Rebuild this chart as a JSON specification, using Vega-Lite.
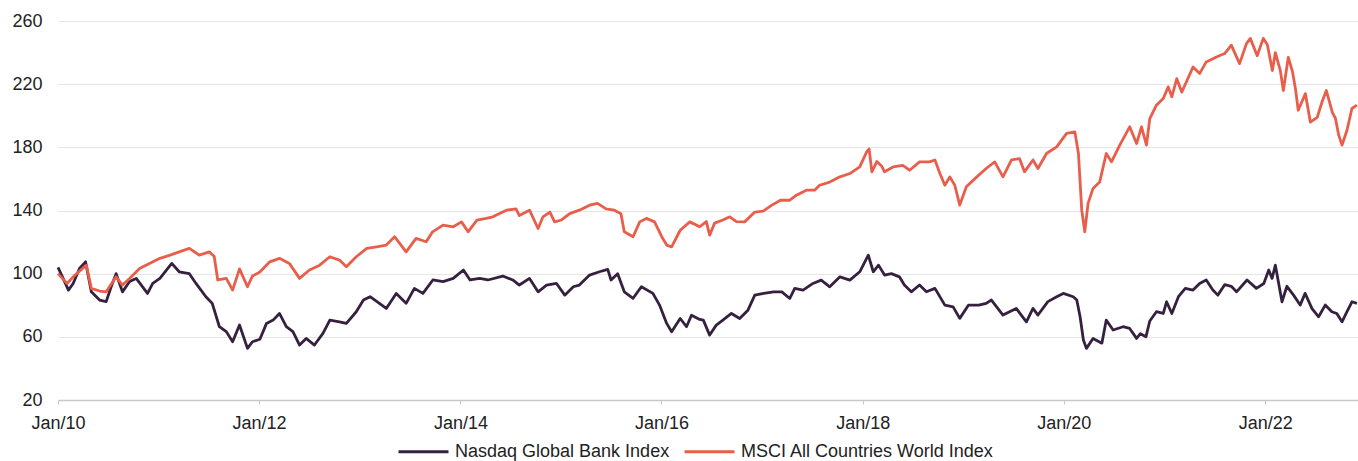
{
  "$schema": "https://vega.github.io/schema/vega-lite/v6.json",
  "width": 1300,
  "height": 379,
  "autosize": {"type": "none"},
  "padding": {"left": 58, "top": 21, "right": 0, "bottom": 61},
  "background": "white",
  "config": {
    "view": {"stroke": null},
    "font": "Liberation Sans",
    "axis": {"labelFont": "Liberation Sans", "labelFontSize": 18, "labelColor": "#222222", "titleFont": "Liberation Sans"},
    "legend": {"labelFont": "Liberation Sans"}
  },
  "datasets": {
    "bank": [
      {"date":"2010-01-01","value":104},{"date":"2010-01-17","value":98},{"date":"2010-02-08","value":89.6},{"date":"2010-02-25","value":93.8},
      {"date":"2010-03-20","value":103.3},{"date":"2010-04-11","value":107.5},{"date":"2010-05-02","value":88.5},{"date":"2010-06-01","value":83.3},
      {"date":"2010-06-25","value":82.3},{"date":"2010-07-13","value":91.7},{"date":"2010-07-31","value":100},{"date":"2010-08-23","value":88.5},
      {"date":"2010-09-18","value":95},{"date":"2010-10-12","value":97},{"date":"2010-11-22","value":87.5},{"date":"2010-12-11","value":93.8},
      {"date":"2011-01-06","value":97},{"date":"2011-02-18","value":106.5},{"date":"2011-03-17","value":101.2},{"date":"2011-04-23","value":100},
      {"date":"2011-05-17","value":93.8},{"date":"2011-06-22","value":85.4},{"date":"2011-07-15","value":81.2},{"date":"2011-08-10","value":66.4},
      {"date":"2011-09-04","value":63.3},{"date":"2011-09-27","value":56.9},{"date":"2011-10-22","value":67.5},{"date":"2011-11-20","value":52.7},
      {"date":"2011-12-08","value":56.9},{"date":"2012-01-04","value":58.5},{"date":"2012-01-28","value":68.5},{"date":"2012-02-21","value":70.6},
      {"date":"2012-03-15","value":74.8},{"date":"2012-04-09","value":66.4},{"date":"2012-05-03","value":63.3},{"date":"2012-05-27","value":54.8},
      {"date":"2012-06-20","value":59},{"date":"2012-07-20","value":54.8},{"date":"2012-08-20","value":62.2},{"date":"2012-09-14","value":70.6},
      {"date":"2012-10-19","value":69.5},{"date":"2012-11-13","value":68.5},{"date":"2012-12-19","value":75.9},{"date":"2013-01-14","value":83.3},
      {"date":"2013-02-07","value":85.4},{"date":"2013-03-13","value":81.2},{"date":"2013-04-07","value":78},{"date":"2013-05-13","value":87.5},
      {"date":"2013-06-18","value":81.2},{"date":"2013-07-18","value":90.7},{"date":"2013-08-18","value":87.5},{"date":"2013-09-23","value":96},
      {"date":"2013-10-30","value":95},{"date":"2013-12-06","value":97},{"date":"2014-01-12","value":102.3},{"date":"2014-02-05","value":96},
      {"date":"2014-03-12","value":97},{"date":"2014-04-11","value":96},{"date":"2014-06-04","value":98.5},{"date":"2014-07-10","value":96},
      {"date":"2014-08-03","value":92.8},{"date":"2014-09-09","value":97},{"date":"2014-10-10","value":88.5},{"date":"2014-11-10","value":92.8},
      {"date":"2014-12-16","value":93.8},{"date":"2015-01-15","value":86.4},{"date":"2015-02-15","value":91.7},{"date":"2015-03-09","value":92.8},
      {"date":"2015-04-15","value":99.1},{"date":"2015-05-21","value":101.2},{"date":"2015-06-20","value":102.7},{"date":"2015-07-02","value":96},
      {"date":"2015-07-26","value":100},{"date":"2015-08-19","value":88.5},{"date":"2015-09-20","value":84.4},{"date":"2015-10-20","value":91.7},
      {"date":"2015-12-01","value":87.5},{"date":"2015-12-25","value":80.1},{"date":"2016-01-20","value":68.5},{"date":"2016-02-07","value":63.2},
      {"date":"2016-03-09","value":71.6},{"date":"2016-04-01","value":66.4},{"date":"2016-04-19","value":73.7},{"date":"2016-05-19","value":71},
      {"date":"2016-06-01","value":70.6},{"date":"2016-06-24","value":61.1},{"date":"2016-07-18","value":67.4},{"date":"2016-08-11","value":70.6},
      {"date":"2016-09-11","value":74.8},{"date":"2016-10-11","value":71.6},{"date":"2016-11-10","value":76.9},{"date":"2016-12-05","value":86.4},
      {"date":"2017-01-06","value":87.5},{"date":"2017-02-11","value":88.5},{"date":"2017-03-13","value":88.5},{"date":"2017-04-11","value":84.3},
      {"date":"2017-04-29","value":90.7},{"date":"2017-05-29","value":89.6},{"date":"2017-07-04","value":93.8},{"date":"2017-08-03","value":95.9},
      {"date":"2017-09-03","value":91.7},{"date":"2017-10-10","value":98},{"date":"2017-11-15","value":95.9},{"date":"2017-12-21","value":101.2},
      {"date":"2018-01-21","value":111.7},{"date":"2018-02-08","value":101.2},{"date":"2018-02-27","value":105.4},{"date":"2018-03-21","value":99.1},
      {"date":"2018-04-15","value":100},{"date":"2018-05-14","value":98},{"date":"2018-06-01","value":92.8},{"date":"2018-06-26","value":88.5},
      {"date":"2018-07-26","value":92.8},{"date":"2018-08-20","value":88.5},{"date":"2018-09-20","value":90.7},{"date":"2018-10-26","value":80.1},
      {"date":"2018-11-25","value":79},{"date":"2018-12-19","value":71.7},{"date":"2019-01-20","value":80.1},{"date":"2019-02-26","value":80.1},
      {"date":"2019-03-25","value":81.2},{"date":"2019-04-13","value":83.3},{"date":"2019-05-25","value":73.8},{"date":"2019-07-12","value":78},
      {"date":"2019-08-18","value":69.5},{"date":"2019-09-11","value":78},{"date":"2019-09-29","value":73.8},{"date":"2019-11-04","value":82.3},
      {"date":"2019-12-06","value":85.4},{"date":"2019-12-30","value":87.5},{"date":"2020-02-04","value":85.4},{"date":"2020-02-17","value":83.3},
      {"date":"2020-02-29","value":72.7},{"date":"2020-03-12","value":58},{"date":"2020-03-23","value":52.7},{"date":"2020-04-16","value":59},
      {"date":"2020-05-18","value":56},{"date":"2020-06-03","value":70.6},{"date":"2020-06-28","value":64.3},{"date":"2020-08-03","value":66.4},
      {"date":"2020-08-27","value":65.3},{"date":"2020-09-21","value":59},{"date":"2020-10-05","value":62},{"date":"2020-10-25","value":60},
      {"date":"2020-11-08","value":70},{"date":"2020-12-02","value":75.9},{"date":"2020-12-27","value":74.8},{"date":"2021-01-08","value":82.2},
      {"date":"2021-01-27","value":74.8},{"date":"2021-02-20","value":85.4},{"date":"2021-03-17","value":90.7},{"date":"2021-04-14","value":89.6},
      {"date":"2021-05-08","value":93.8},{"date":"2021-06-01","value":96},{"date":"2021-06-25","value":89.6},{"date":"2021-07-13","value":86.4},
      {"date":"2021-08-07","value":93},{"date":"2021-08-31","value":92},{"date":"2021-09-19","value":88.5},{"date":"2021-10-27","value":96},
      {"date":"2021-11-30","value":90.7},{"date":"2021-12-27","value":93.8},{"date":"2022-01-14","value":102.3},{"date":"2022-01-26","value":97},
      {"date":"2022-02-07","value":105.4},{"date":"2022-02-19","value":93.8},{"date":"2022-03-03","value":82.2},{"date":"2022-03-21","value":92},
      {"date":"2022-04-14","value":86.4},{"date":"2022-05-08","value":80.1},{"date":"2022-05-26","value":87.5},{"date":"2022-06-20","value":77.9},
      {"date":"2022-07-14","value":72.7},{"date":"2022-08-07","value":80.1},{"date":"2022-08-31","value":75.9},{"date":"2022-09-18","value":74.8},
      {"date":"2022-10-07","value":69.5},{"date":"2022-10-25","value":75.9},{"date":"2022-11-12","value":82.2},{"date":"2022-11-30","value":81.2}
    ],
    "msci": [
      {"date":"2010-01-01","value":100},{"date":"2010-02-03","value":93.8},{"date":"2010-02-25","value":98},{"date":"2010-04-14","value":105.4},
      {"date":"2010-05-02","value":90.7},{"date":"2010-06-01","value":89},{"date":"2010-06-25","value":88.5},{"date":"2010-07-31","value":98},
      {"date":"2010-08-23","value":92.8},{"date":"2010-09-18","value":97},{"date":"2010-10-24","value":103.3},{"date":"2010-11-29","value":106.5},
      {"date":"2011-01-06","value":109.7},{"date":"2011-02-12","value":111.7},{"date":"2011-03-17","value":113.8},{"date":"2011-04-23","value":116},
      {"date":"2011-05-29","value":111.7},{"date":"2011-07-04","value":113.8},{"date":"2011-07-22","value":111},{"date":"2011-08-04","value":96},
      {"date":"2011-09-04","value":97},{"date":"2011-09-27","value":89.6},{"date":"2011-10-22","value":103},{"date":"2011-11-20","value":91.7},
      {"date":"2011-12-08","value":98.5},{"date":"2012-01-04","value":101},{"date":"2012-02-09","value":107.5},{"date":"2012-03-15","value":109.7},
      {"date":"2012-04-20","value":106.5},{"date":"2012-05-27","value":97},{"date":"2012-07-02","value":102.3},{"date":"2012-08-08","value":105.4},
      {"date":"2012-09-14","value":110.7},{"date":"2012-10-19","value":108.6},{"date":"2012-11-13","value":104.4},{"date":"2012-12-19","value":110.7},
      {"date":"2013-01-26","value":116},{"date":"2013-03-03","value":117},{"date":"2013-04-07","value":118.1},{"date":"2013-05-07","value":123.4},
      {"date":"2013-06-18","value":113.8},{"date":"2013-07-24","value":122.3},{"date":"2013-08-30","value":120.2},{"date":"2013-09-22","value":126.5},
      {"date":"2013-10-30","value":130.7},{"date":"2013-12-06","value":129.7},{"date":"2014-01-05","value":132.8},{"date":"2014-01-29","value":126.5},
      {"date":"2014-03-02","value":133.9},{"date":"2014-04-05","value":135},{"date":"2014-04-29","value":136},{"date":"2014-06-17","value":140.2},
      {"date":"2014-07-22","value":141},{"date":"2014-08-03","value":136.8},{"date":"2014-09-09","value":140.2},{"date":"2014-10-10","value":128.6},
      {"date":"2014-10-28","value":136},{"date":"2014-11-22","value":139},{"date":"2014-12-09","value":132.8},{"date":"2015-01-03","value":134},
      {"date":"2015-02-02","value":138},{"date":"2015-03-09","value":140.2},{"date":"2015-04-15","value":143.4},{"date":"2015-05-14","value":144.5},
      {"date":"2015-06-14","value":141},{"date":"2015-07-14","value":140.2},{"date":"2015-08-07","value":138},{"date":"2015-08-19","value":126.5},
      {"date":"2015-09-20","value":123.4},{"date":"2015-10-14","value":132.8},{"date":"2015-11-07","value":135},{"date":"2015-12-07","value":132.8},
      {"date":"2016-01-02","value":123.4},{"date":"2016-01-20","value":118.1},{"date":"2016-02-07","value":117},{"date":"2016-03-09","value":127.5},
      {"date":"2016-04-13","value":132.8},{"date":"2016-05-19","value":129.7},{"date":"2016-06-12","value":133},{"date":"2016-06-24","value":124.4},
      {"date":"2016-07-12","value":132},{"date":"2016-08-11","value":134},{"date":"2016-09-05","value":136},{"date":"2016-09-29","value":133},
      {"date":"2016-10-29","value":132.8},{"date":"2016-12-05","value":139},{"date":"2017-01-04","value":139.6},{"date":"2017-02-05","value":143.4},
      {"date":"2017-03-08","value":146.5},{"date":"2017-04-11","value":146.5},{"date":"2017-05-05","value":149.7},{"date":"2017-06-10","value":152.9},
      {"date":"2017-07-10","value":152.9},{"date":"2017-07-28","value":156},{"date":"2017-09-03","value":158},{"date":"2017-10-10","value":161.3},
      {"date":"2017-11-15","value":163.4},{"date":"2017-12-21","value":167.6},{"date":"2018-01-15","value":177.1},{"date":"2018-01-24","value":179},
      {"date":"2018-02-03","value":164.5},{"date":"2018-02-21","value":171},{"date":"2018-03-11","value":168},{"date":"2018-03-21","value":164.5},
      {"date":"2018-04-21","value":167.6},{"date":"2018-05-26","value":168.6},{"date":"2018-06-20","value":165.5},{"date":"2018-07-26","value":170.8},
      {"date":"2018-08-31","value":170.8},{"date":"2018-09-20","value":172},{"date":"2018-10-08","value":163.4},{"date":"2018-10-26","value":156},
      {"date":"2018-11-13","value":161.3},{"date":"2018-12-01","value":156},{"date":"2018-12-19","value":143.4},{"date":"2019-01-12","value":155},
      {"date":"2019-02-19","value":161.3},{"date":"2019-03-25","value":166.6},{"date":"2019-04-25","value":170.8},{"date":"2019-05-25","value":161.3},
      {"date":"2019-06-25","value":172},{"date":"2019-07-24","value":172.9},{"date":"2019-08-11","value":164.5},{"date":"2019-09-11","value":172},
      {"date":"2019-09-29","value":166.6},{"date":"2019-10-30","value":176.1},{"date":"2019-12-06","value":180.3},{"date":"2020-01-11","value":188.8},
      {"date":"2020-02-10","value":189.8},{"date":"2020-02-23","value":176.1},{"date":"2020-03-06","value":140.2},{"date":"2020-03-17","value":126.5},
      {"date":"2020-03-29","value":144.5},{"date":"2020-04-16","value":154},{"date":"2020-05-10","value":158},{"date":"2020-06-03","value":176.1},
      {"date":"2020-06-22","value":170.8},{"date":"2020-07-22","value":181.4},{"date":"2020-08-27","value":193},{"date":"2020-09-21","value":182.4},
      {"date":"2020-10-09","value":193},{"date":"2020-10-27","value":181.4},{"date":"2020-11-08","value":198.2},{"date":"2020-12-02","value":206.7},
      {"date":"2020-12-27","value":210.9},{"date":"2021-01-14","value":218.3},{"date":"2021-01-27","value":212},{"date":"2021-02-14","value":223.5},
      {"date":"2021-03-04","value":215},{"date":"2021-03-21","value":221.4},{"date":"2021-04-14","value":230.9},{"date":"2021-05-08","value":226.7},
      {"date":"2021-06-01","value":234.1},{"date":"2021-07-08","value":237.2},{"date":"2021-08-07","value":239.4},{"date":"2021-08-31","value":244.7},
      {"date":"2021-09-30","value":233},{"date":"2021-10-25","value":245.7},{"date":"2021-11-08","value":249},{"date":"2021-12-03","value":238},
      {"date":"2021-12-25","value":249},{"date":"2022-01-09","value":245},{"date":"2022-01-27","value":228.6},{"date":"2022-02-07","value":240},
      {"date":"2022-02-25","value":228.6},{"date":"2022-03-08","value":216},{"date":"2022-03-26","value":237},{"date":"2022-04-10","value":228},
      {"date":"2022-04-21","value":217},{"date":"2022-05-01","value":203.5},{"date":"2022-05-27","value":214},{"date":"2022-06-14","value":196},
      {"date":"2022-07-09","value":199},{"date":"2022-07-27","value":209},{"date":"2022-08-11","value":216},{"date":"2022-09-02","value":202},
      {"date":"2022-09-13","value":198.4},{"date":"2022-09-25","value":187.7},{"date":"2022-10-07","value":181.4},{"date":"2022-10-25","value":190.8},
      {"date":"2022-11-12","value":204.6},{"date":"2022-11-30","value":206.7}
    ]
  },
  "encoding": {
    "x": {
      "field": "date", "type": "temporal", "title": null,
      "scale": {"type": "utc", "domain": ["2010-01-01", "2022-12-04"], "nice": false},
      "axis": {
        "labelExpr": "utcFormat(datum.value, '%b/%y')",
        "values": ["2010-01-01", "2012-01-01", "2014-01-01", "2016-01-01", "2018-01-01", "2020-01-01", "2022-01-01"],
        "grid": false, "domainColor": "#c8c8c8", "domainWidth": 1.5, "tickColor": "#c8c8c8", "tickSize": 4,
        "labelFlush": false, "labelPadding": 10, "labelOverlap": false
      }
    },
    "y": {
      "field": "value", "type": "quantitative", "title": null,
      "scale": {"domain": [20, 260], "nice": false, "zero": false},
      "axis": {
        "values": [20, 60, 100, 140, 180, 220, 260], "domain": false, "ticks": false,
        "gridColor": "#e6e6e6", "gridWidth": 1.2, "labelPadding": 16
      }
    },
    "color": {
      "scale": {"domain": ["Nasdaq Global Bank Index", "MSCI All Countries World Index"], "range": ["#35213f", "#e95e4b"]},
      "legend": {
        "title": null, "orient": "none", "legendX": 339, "legendY": 404, "direction": "horizontal",
        "symbolType": "stroke", "symbolSize": 2500, "symbolStrokeWidth": 3,
        "labelFontSize": 18, "labelColor": "#222222", "labelOffset": 5, "labelLimit": 500, "columnPadding": 8, "padding": 0
      }
    }
  },
  "layer": [
    {
      "data": {"name": "bank"},
      "mark": {"type": "line", "strokeWidth": 2.8, "strokeJoin": "round"},
      "encoding": {"color": {"datum": "Nasdaq Global Bank Index"}}
    },
    {
      "data": {"name": "msci"},
      "mark": {"type": "line", "strokeWidth": 2.8, "strokeJoin": "round"},
      "encoding": {"color": {"datum": "MSCI All Countries World Index"}}
    }
  ]
}
